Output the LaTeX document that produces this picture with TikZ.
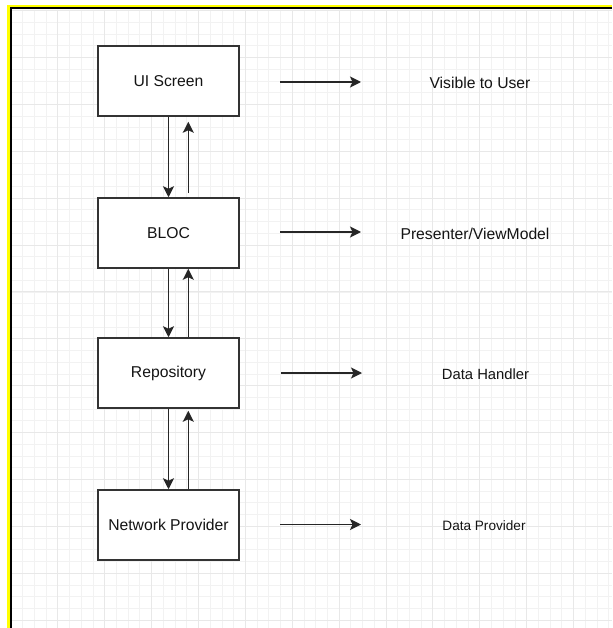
\documentclass[tikz,border=0pt]{standalone}
\usepackage{fontspec}
\setmainfont{Liberation Sans}
\usetikzlibrary{arrows.meta}
\definecolor{gridminor}{HTML}{F2F2F2}
\definecolor{gridmajor}{HTML}{E8E8E8}
\definecolor{frameyellow}{HTML}{FFFF00}
\definecolor{boxline}{HTML}{333333}
\definecolor{txt}{HTML}{141414}
\begin{document}
\begin{tikzpicture}[x=1pt,y=-1pt,
  layerbox/.style={draw=boxline,line width=1.5pt,fill=white,minimum width=141pt,minimum height=70pt,inner sep=0pt,text=txt,font=\fontsize{15.7}{18}\selectfont},
  label/.style={inner sep=0pt,text=txt,font=\fontsize{15.7}{18}\selectfont},
  conn/.style={line width=1.6pt,draw=black!85,-{Stealth[length=11pt,width=11pt,inset=2.5pt]}}]
\useasboundingbox (0,0) rectangle (612,628);
\fill[white] (0,0) rectangle (612,628);
% grid
\foreach \i in {0,...,52} {
  \pgfmathsetmacro{\xx}{11+11.72*\i}
  \draw[gridminor,line width=0.9pt] (\xx,10) -- (\xx,628);
}
\foreach \i in {0,...,53} {
  \pgfmathsetmacro{\yy}{10.7+11.72*\i}
  \draw[gridminor,line width=0.9pt] (12,\yy) -- (612,\yy);
}
\foreach \i in {0,...,13} {
  \pgfmathsetmacro{\xx}{11+46.88*\i}
  \draw[gridmajor,line width=1pt] (\xx,10) -- (\xx,628);
}
\foreach \i in {0,...,13} {
  \pgfmathsetmacro{\yy}{10.7+46.88*\i}
  \draw[gridmajor,line width=1pt] (12,\yy) -- (612,\yy);
}
% frame
\fill[frameyellow] (7,5) rectangle (612,7.5);
\fill[frameyellow] (7,5) rectangle (10,628);
\fill[black] (10,7.5) rectangle (612,9.5);
\fill[black] (10,7.5) rectangle (12,628);
% boxes
\node[layerbox] (ui) at (168.5,81) {UI Screen};
\node[layerbox] (bloc) at (168.5,233) {BLOC};
\node[layerbox] (repo) at (168.5,373) {Repository};
\node[layerbox] (net) at (168.5,525) {Network Provider};
% labels
\node[label] (l1) at (480,82.5) {Visible to User};
\node[label] (l2) at (475,234) {Presenter/ViewModel};
\node[label,font=\fontsize{14.8}{18}\selectfont] (l3) at (485.5,374) {Data Handler};
\node[label,font=\fontsize{13.6}{16}\selectfont] (l4) at (484,525.5) {Data Provider};
% vertical connectors
\draw[conn] (ui.south) -- (bloc.north);
\draw[conn] ([xshift=19.8pt,yshift=4pt]bloc.north) -- ([xshift=19.8pt,yshift=-5pt]ui.south);
\draw[conn] (bloc.south) -- (repo.north);
\draw[conn] ([xshift=19.8pt]repo.north) -- ([xshift=19.8pt]bloc.south);
\draw[conn] (repo.south) -- (net.north);
\draw[conn] ([xshift=19.8pt]net.north) -- ([xshift=19.8pt,yshift=-2pt]repo.south);
% horizontal connectors
\coordinate (a1) at (280,82);
\coordinate (b1) at (361,82);
\coordinate (a2) at (280,232);
\coordinate (b2) at (361,232);
\coordinate (a3) at (281,373);
\coordinate (b3) at (362,373);
\coordinate (a4) at (280,524.5);
\coordinate (b4) at (361,524.5);
\draw[conn] (a1) -- (b1);
\draw[conn] (a2) -- (b2);
\draw[conn] (a3) -- (b3);
\draw[conn] (a4) -- (b4);
\end{tikzpicture}
\end{document}
